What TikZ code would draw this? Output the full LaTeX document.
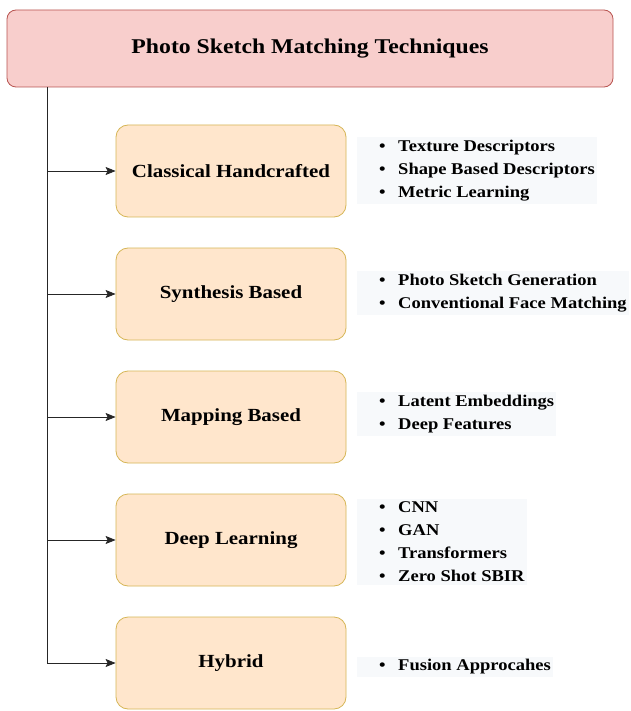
\documentclass[tikz,border=0pt]{standalone}
\usepackage{fontspec}
\setmainfont{Liberation Serif}[FakeStretch=1.13]
\usetikzlibrary{positioning,arrows.meta}

\definecolor{rootfill}{HTML}{F8CECC}
\definecolor{rootline}{HTML}{B85450}
\definecolor{catfill}{HTML}{FFE6CC}
\definecolor{catline}{HTML}{D6B656}
\definecolor{listfill}{HTML}{F7F9FB}

\newcommand{\itm}[1]{\hspace*{20pt}\makebox[19pt][l]{\textbullet}#1}

\begin{document}
\begin{tikzpicture}[x=1pt,y=-1pt,
    rootbox/.style={rectangle, rounded corners=9pt, draw=rootline, fill=rootfill, thick,
        minimum width=606pt, minimum height=77pt, font=\bfseries\fontsize{21}{24}\selectfont},
    catbox/.style={rectangle, rounded corners=12pt, draw=catline, fill=catfill, thick,
        minimum width=230pt, minimum height=92pt, font=\bfseries\fontsize{18.5}{22}\selectfont},
    listbox/.style={rectangle, fill=listfill, anchor=west, align=left, inner xsep=2pt, inner ysep=3pt,
        font=\bfseries\fontsize{16.4}{23}\selectfont},
    link/.style={-{Stealth[length=10pt,width=8pt,inset=2pt]}, thick, black!85}]
    \useasboundingbox[fill=white] (0,0) rectangle (630,711);
    %Nodes
    \node[rootbox] (root) at (310,48.5) {Photo Sketch Matching Techniques};
    \node[catbox] (classic) at (231,171) {Classical Handcrafted};
    \node[catbox] (synth) at (231,294) {Synthesis Based};
    \node[catbox] (mapping) at (231,417) {Mapping Based};
    \node[catbox] (deep) at (231,540) {Deep Learning};
    \node[catbox] (hybrid) at (231,663) {Hybrid};

    \node[listbox] (classiclist) at (357,171) {\itm{Texture Descriptors}\\ \itm{Shape Based Descriptors}\\ \itm{Metric Learning}};
    \node[listbox] (synthlist) at (357,293) {\itm{Photo Sketch Generation}\\ \itm{Conventional Face Matching}};
    \node[listbox] (mappinglist) at (357,414) {\itm{Latent Embeddings}\\ \itm{Deep Features}};
    \node[listbox] (deeplist) at (357,542) {\itm{CNN}\\ \itm{GAN}\\ \itm{Transformers}\\ \itm{Zero Shot SBIR}};
    \node[listbox] (hybridlist) at (357,667) {\itm{Fusion Approcahes}};

    %Lines
    \coordinate (trunk) at (47,87);
    \draw[thick, black!85] (trunk) -- (trunk |- hybrid.west);
    \foreach \c in {classic,synth,mapping,deep,hybrid}
        \draw[link] (trunk |- \c.west) -- (\c.west);
\end{tikzpicture}
\end{document}
